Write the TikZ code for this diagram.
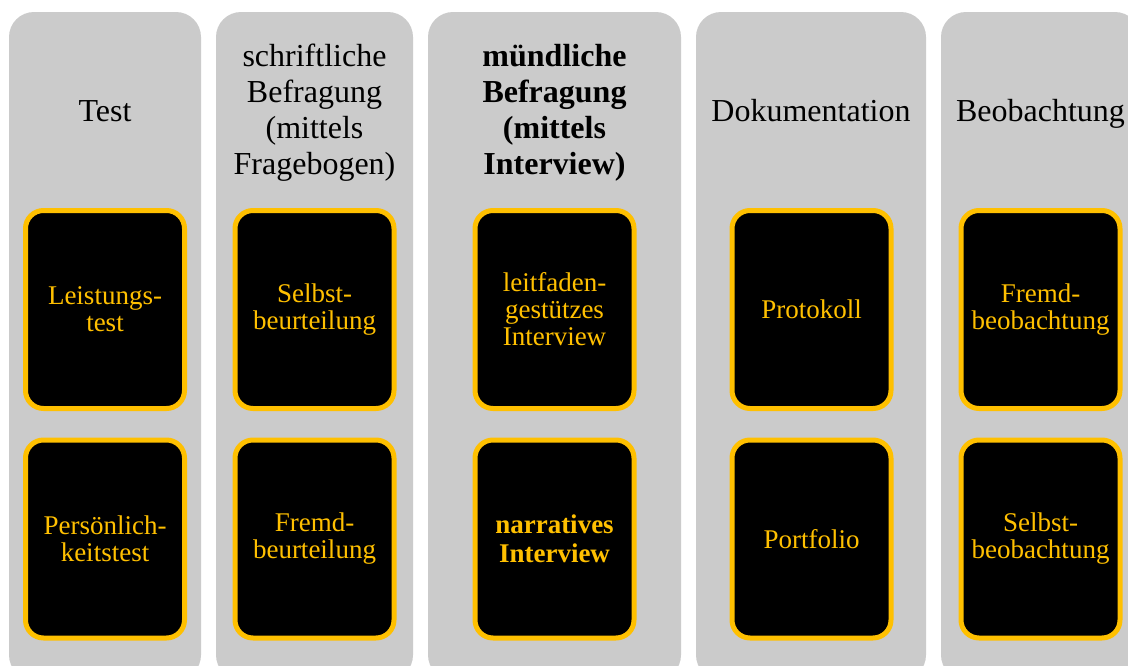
\documentclass[tikz,border=0pt]{standalone}
\usepackage{fontspec}
\setmainfont{Liberation Serif}
\definecolor{colgray}{HTML}{CBCBCB}
\definecolor{gold}{HTML}{FFC000}
\begin{document}
\begin{tikzpicture}[x=1pt,y=-1pt,
  column/.style={draw=none, fill=colgray, rounded corners=25pt, minimum width=192pt,
    minimum height=668pt, inner sep=0pt},
  heading/.style={align=center, text=black, font=\fontsize{32}{36}\selectfont},
  card/.style={draw=gold, line width=5pt, fill=black, rounded corners=18pt,
    minimum width=159pt, minimum height=198pt, inner sep=0pt, align=center,
    text=gold, font=\fontsize{27}{27}\selectfont}]
\useasboundingbox (0,0) rectangle (1128,665);
\clip (0,0) rectangle (1128,665);

% columns
\node[column] (c1) at (105,346) {};
\node[column, minimum width=197pt] (c2) at (314.5,346) {};
\node[column, minimum width=253pt] (c3) at (554.5,346) {};
\node[column, minimum width=230pt] (c4) at (811,346) {};
\node[column, minimum width=199pt] (c5) at (1040.5,346) {};

% headings
\node[heading, anchor=base] (h1) at (105,121) {Test};
\node[heading] (h2) at (314.5,113) {schriftliche\\Befragung\\(mittels\\Fragebogen)};
\node[heading, font=\fontsize{32}{36}\selectfont\bfseries] (h3) at (554.5,113) {mündliche\\Befragung\\(mittels\\Interview)};
\node[heading, anchor=base] (h4) at (811,121) {Dokumentation};
\node[heading, anchor=base] (h5) at (1040.5,121) {Beobachtung};

% method cards
\node[card] (a1) at (105,309.5) {Leistungs-\\test};
\node[card] (b1) at (105,539) {Persönlich-\\keitstest};
\node[card] (a2) at (314.5,309.5) {Selbst-\\beurteilung};
\node[card] (b2) at (314.5,539) {Fremd-\\beurteilung};
\node[card] (a3) at (554.5,309.5) {leitfaden-\\gestützes\\Interview};
\node[card, font=\fontsize{27}{29}\selectfont\bfseries] (b3) at (554.5,539) {narratives\\Interview};
\node[card] (a4) at (811.5,309.5) {Protokoll};
\node[card] (b4) at (811.5,539) {Portfolio};
\node[card] (a5) at (1040.5,309.5) {Fremd-\\beobachtung};
\node[card] (b5) at (1040.5,539) {Selbst-\\beobachtung};
\end{tikzpicture}
\end{document}
